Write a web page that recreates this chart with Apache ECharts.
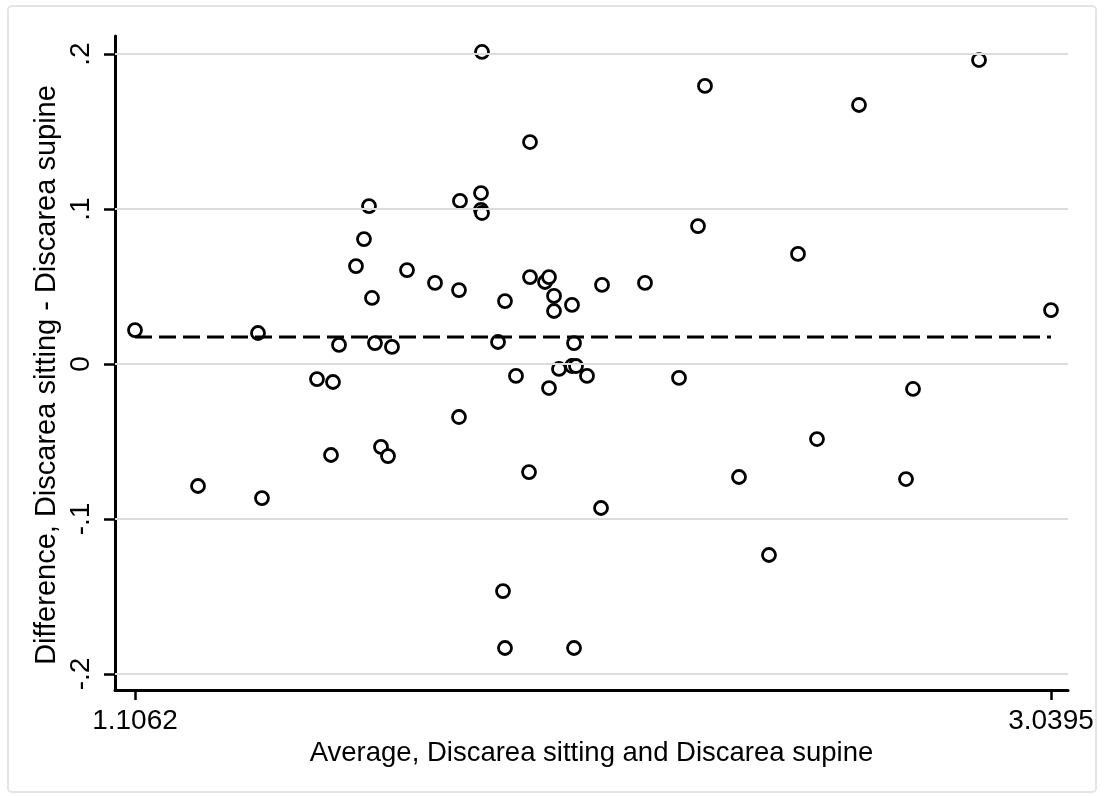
<!DOCTYPE html>
<html>
<head>
<meta charset="utf-8">
<script src="https://cdn.jsdelivr.net/npm/echarts@6/dist/echarts.min.js"></script>
<style>
  html, body { margin: 0; padding: 0; background: #fff; }
  #chart { width: 1108px; height: 796px; }
</style>
</head>
<body>
<div id="chart"></div>
<script>
// Average of the two measurements (x)
const avgVals = [
  1.1062, 1.2392, 1.3658, 1.3742, 1.4903, 1.5241, 1.5199, 1.5368, 1.5726, 1.5895,
  1.6001, 1.6064, 1.6127, 1.6254, 1.6402, 1.6486, 1.6803, 1.7394, 1.7900, 1.7900,
  1.7921, 1.8365, 1.8365, 1.8386, 1.8386, 1.8724, 1.8871, 1.8829, 1.8871, 1.9103,
  1.9378, 1.9399, 1.9399, 1.9716, 1.9800, 1.9800, 1.9906, 1.9906, 2.0011, 2.0285,
  2.0285, 2.0328, 2.0370, 2.0328, 2.0602, 2.0898, 2.0919, 2.1826, 2.2544, 2.2945,
  2.3092, 2.3810, 2.4443, 2.5055, 2.5456, 2.6343, 2.7335, 2.7483, 2.8876, 3.0395
];
// Difference sitting - supine (y)
const diffVals = [
  0.0219, -0.0787, 0.0200, -0.0865, -0.0097, -0.0116, -0.0587, 0.0123, 0.0632, 0.0806,
  0.1019, 0.0426, 0.0135, -0.0535, -0.0594, 0.0110, 0.0606, 0.0523, -0.0342, 0.0477,
  0.1052, 0.1103, 0.0994, 0.0974, 0.2013, 0.0142, 0.0406, -0.1465, -0.1832, -0.0077,
  -0.0697, 0.1432, 0.0561, 0.0529, 0.0561, -0.0155, 0.0439, 0.0342, -0.0032, 0.0381,
  -0.0013, 0.0135, -0.0013, -0.1832, -0.0077, -0.0929, 0.0510, 0.0523, -0.0090, 0.0890,
  0.1794, -0.0729, -0.1232, 0.0710, -0.0484, 0.1671, -0.0742, -0.0161, 0.1961, 0.0348
];
const meanDiff = 0.0174;
const xTickValues = [1.1062, 3.0395];
const xTickLabels = ['1.1062', '3.0395'];
const yTickValues = [-0.2, -0.1, 0, 0.1, 0.2];
const yTickLabels = ['-.2', '-.1', '0', '.1', '.2'];
const xTitle = 'Average, Discarea sitting and Discarea supine';
const yTitle = 'Difference, Discarea sitting - Discarea supine';

const points = avgVals.map((x, i) => [x, diffVals[i]]);
const meanLine = [[xTickValues[0], meanDiff], [xTickValues[1], meanDiff]];

const FONT = '"Liberation Sans", Helvetica, Arial, sans-serif';

const chart = echarts.init(document.getElementById('chart'), null, { renderer: 'canvas' });
chart.setOption({
  animation: false,
  backgroundColor: '#ffffff',
  graphic: [
    {
      type: 'rect',
      shape: { x: 8, y: 6, width: 1088, height: 786, r: 4 },
      style: { fill: 'none', stroke: '#e4e4e4', lineWidth: 2 },
      silent: true, z: -10
    },
    {
      type: 'text',
      x: 47, y: 375,
      rotation: Math.PI / 2,
      style: {
        text: yTitle,
        font: '29px ' + FONT,
        fill: '#000',
        align: 'center',
        verticalAlign: 'middle'
      },
      silent: true
    }
  ],
  grid: { left: 115, right: 40, top: 36, bottom: 106, containLabel: false },
  xAxis: {
    type: 'value',
    min: 1.0640,
    max: 3.0754,
    name: xTitle,
    nameLocation: 'middle',
    nameGap: 43,
    nameTextStyle: { fontFamily: FONT, fontSize: 27.5, color: '#000' },
    axisLine: { show: true, onZero: false, lineStyle: { color: '#000', width: 3 } },
    axisTick: { show: true, customValues: xTickValues, length: 10, lineStyle: { color: '#000', width: 2.5 } },
    axisLabel: {
      customValues: xTickValues,
      formatter: (v) => xTickLabels[xTickValues.indexOf(v)] ?? '',
      fontFamily: FONT, fontSize: 28, color: '#000', margin: 17
    },
    splitLine: { show: false }
  },
  yAxis: {
    type: 'value',
    min: -0.2103,
    max: 0.2116,
    axisLine: { show: true, onZero: false, lineStyle: { color: '#000', width: 3 } },
    axisTick: { show: true, customValues: yTickValues, length: 11, lineStyle: { color: '#000', width: 2.5 } },
    axisLabel: {
      customValues: yTickValues,
      formatter: (v) => {
        const i = yTickValues.findIndex(t => Math.abs(t - v) < 1e-9);
        return i >= 0 ? yTickLabels[i] : '';
      },
      rotate: 90,
      fontFamily: FONT, fontSize: 28, color: '#000', margin: 20
    },
    splitLine: { show: false }
  },
  series: [
    {
      type: 'line',
      data: [],
      silent: true,
      z: 1,
      markLine: {
        silent: true,
        symbol: ['none', 'none'],
        label: { show: false },
        lineStyle: { color: '#dcdcdc', width: 2, type: 'solid' },
        data: yTickValues.map(v => ({ yAxis: v }))
      }
    },
    {
      type: 'scatter',
      data: points,
      symbol: 'circle',
      symbolSize: 13,
      z: 3,
      itemStyle: { color: '#ffffff', borderColor: '#000', borderWidth: 2.8, opacity: 1 }
    },
    {
      type: 'line',
      data: meanLine,
      symbol: 'none',
      silent: true,
      z: 4,
      lineStyle: { color: '#000', width: 3, type: [17, 7] }
    }
  ]
});
</script>
</body>
</html>
